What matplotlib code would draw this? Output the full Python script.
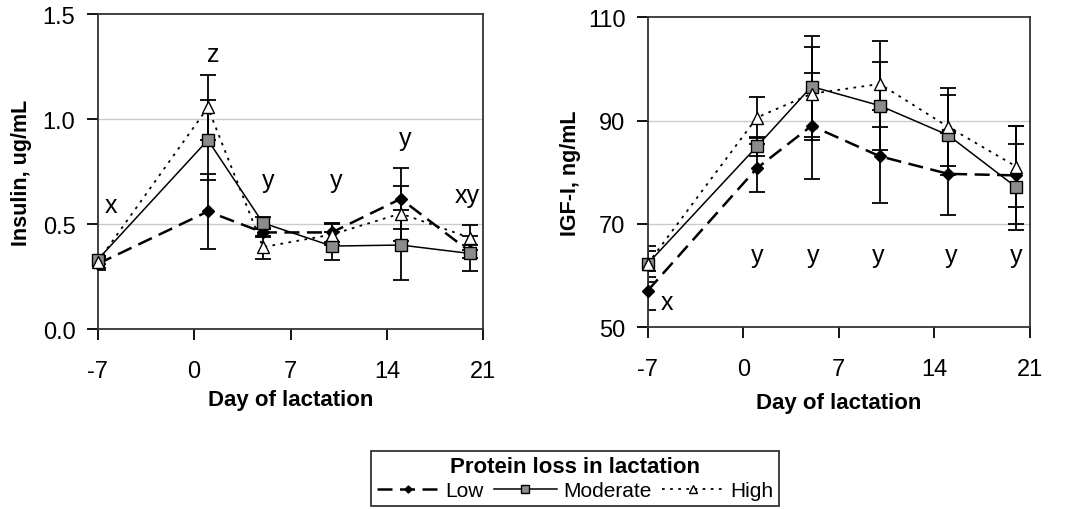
import matplotlib
matplotlib.use("Agg")
import matplotlib.pyplot as plt

plt.rcParams['font.family'] = ['Liberation Sans', 'DejaVu Sans']
plt.rcParams['axes.unicode_minus'] = False

days = [-7, 1, 5, 10, 15, 20]
series_names = ['Low', 'Moderate', 'High']

# insulin, ug/mL (mean and SE)
insulin_low = [0.31, 0.56, 0.46, 0.46, 0.62, 0.37]
insulin_low_se = [0.03, 0.18, 0.02, 0.045, 0.145, 0.03]
insulin_mod = [0.33, 0.90, 0.505, 0.395, 0.40, 0.36]
insulin_mod_se = [0.02, 0.19, 0.03, 0.065, 0.165, 0.085]
insulin_high = [0.32, 1.055, 0.39, 0.45, 0.55, 0.435]
insulin_high_se = [0.03, 0.155, 0.055, 0.05, 0.13, 0.06]

# IGF-I, ng/mL
igf_low = [57.1, 80.8, 89.0, 83.1, 79.7, 79.4]
igf_low_se = [3.7, 4.7, 10.3, 9.0, 8.0, 9.5]
igf_mod = [62.3, 85.0, 96.6, 92.9, 87.2, 77.1]
igf_mod_se = [2.5, 1.8, 9.7, 8.5, 7.8, 8.3]
igf_high = [62.3, 90.6, 95.2, 97.1, 88.8, 81.1]
igf_high_se = [3.5, 4.0, 9.0, 8.3, 7.5, 7.8]

# significance letters (text, day, value)
insulin_letters = [('x', -6.0, 0.59), ('z', 1.4, 1.31), ('y', 5.4, 0.71),
                   ('y', 10.3, 0.71), ('y', 15.3, 0.91), ('xy', 19.8, 0.64)]
igf_letters = [('x', -5.6, 54.8), ('y', 1.0, 64), ('y', 5.1, 64),
               ('y', 9.9, 64), ('y', 15.2, 64), ('y', 20.0, 64)]

x_ticks = [-7, 0, 7, 14, 21]

styles = {
    'Low': dict(linestyle=(0, (6, 3)), linewidth=1.8, marker='D', markersize=6,
                markerfacecolor='black', markeredgecolor='black', color='black'),
    'Moderate': dict(linestyle='-', linewidth=1.1, marker='s', markersize=9,
                     markerfacecolor='#8c8c8c', markeredgecolor='black', color='black'),
    'High': dict(linestyle=(0, (1.5, 3)), linewidth=1.3, marker='^', markersize=9,
                 markerfacecolor='white', markeredgecolor='black', color='black'),
}


def draw_panel(ax, means, ses, ylim, yticks, ylabel, letters, ytickfmt, ylpad):
    handles = []
    for name, m, s in zip(series_names, means, ses):
        ax.errorbar(days, m, yerr=s, fmt='none', ecolor='black', elinewidth=1.3,
                    capsize=6, capthick=1.3, zorder=2)
        h, = ax.plot(days, m, label=name, zorder=3, clip_on=False, **styles[name])
        handles.append(h)
    ax.set_xlim(-7, 21)
    ax.set_ylim(*ylim)
    ax.set_xticks(x_ticks)
    ax.set_yticks(yticks)
    ax.set_yticklabels([ytickfmt.format(v) for v in yticks])
    for v in yticks[1:-1]:
        ax.axhline(v, color='#cccccc', linewidth=1.0, zorder=0)
    ax.tick_params(axis='both', direction='out', length=8, width=1.3, labelsize=17)
    ax.tick_params(axis='x', pad=14)
    ax.tick_params(axis='y', pad=8)
    for sp in ax.spines.values():
        sp.set_linewidth(1.3)
        sp.set_color('#333333')
    ax.set_xlabel('Day of lactation', fontsize=16, fontweight='bold', labelpad=5)
    ax.set_ylabel(ylabel, fontsize=15.5, fontweight='bold', labelpad=ylpad)
    for t, xx, yy in letters:
        ax.text(xx, yy, t, fontsize=18, ha='center', va='center')
    return handles


fig = plt.figure(figsize=(10.71, 5.10), dpi=100)
ax1 = fig.add_axes([0.0912, 0.3529, 0.3601, 0.6176])
ax2 = fig.add_axes([0.6048, 0.3563, 0.3569, 0.6078])

handles = draw_panel(ax1, [insulin_low, insulin_mod, insulin_high],
                     [insulin_low_se, insulin_mod_se, insulin_high_se],
                     (0, 1.5), [0.0, 0.5, 1.0, 1.5], 'Insulin, ug/mL',
                     insulin_letters, '{:.1f}', 8)
draw_panel(ax2, [igf_low, igf_mod, igf_high],
           [igf_low_se, igf_mod_se, igf_high_se],
           (50, 110), [50, 70, 90, 110], 'IGF-I, ng/mL',
           igf_letters, '{:.0f}', 5)
ax2.xaxis.labelpad = 9

leg = fig.legend(handles=handles, labels=series_names, loc='upper center',
                 bbox_to_anchor=(0.537, 0.134), ncol=3, fontsize=15,
                 title='Protein loss in lactation', handlelength=3.0,
                 handletextpad=0.3, columnspacing=0.5, borderpad=0.25,
                 labelspacing=0.2, fancybox=False, frameon=True,
                 markerscale=0.6)
leg.get_title().set_fontweight('bold')
leg.get_title().set_fontsize(16)
leg.get_frame().set_edgecolor('black')
leg.get_frame().set_linewidth(1.3)

fig.savefig('out.png', dpi=100)
